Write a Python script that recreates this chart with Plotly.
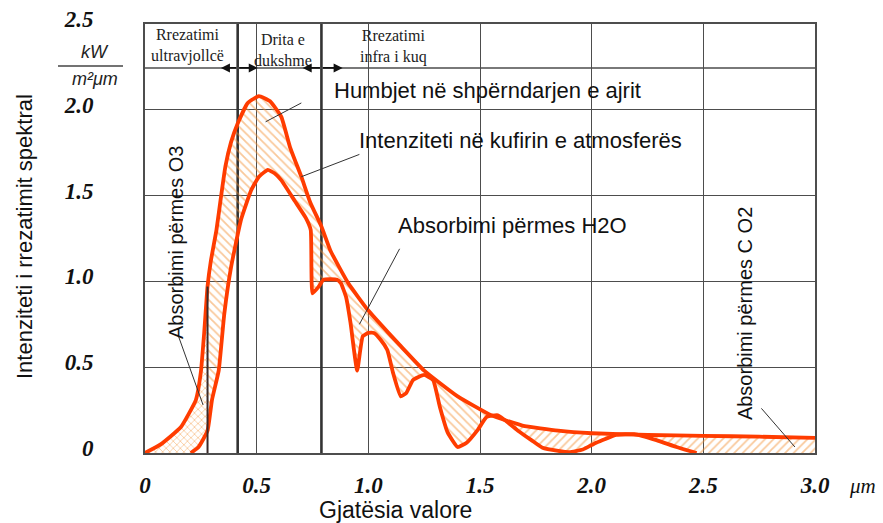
import numpy as np
import plotly.graph_objects as go

# ---------------- data ----------------
# Spectral irradiance at the top of the atmosphere (kW / m2 um)
wl_top = [0.0, 0.07, 0.16, 0.228, 0.25, 0.265, 0.28, 0.295, 0.32, 0.34, 0.36, 0.385,
          0.415, 0.46, 0.51, 0.56, 0.61, 0.65, 0.70, 0.74, 0.79, 0.83, 0.91, 1.00,
          1.09, 1.14, 1.25, 1.40, 1.55, 1.69, 1.85, 2.0, 2.25, 2.5, 2.75, 3.0]
irr_top = [0.0, 0.05, 0.15, 0.31, 0.47, 0.70, 0.97, 1.12, 1.30, 1.49, 1.67, 1.81,
           1.92, 2.04, 2.08, 2.05, 1.96, 1.78, 1.61, 1.46, 1.32, 1.18, 0.99, 0.83,
           0.70, 0.63, 0.48, 0.33, 0.22, 0.16, 0.13, 0.115, 0.105, 0.10, 0.095, 0.088]

# Spectral irradiance at the ground (after absorption)
wl_surf = [0.205, 0.24, 0.28, 0.30, 0.33, 0.355, 0.385, 0.43, 0.475, 0.51, 0.55, 0.58,
           0.61, 0.67, 0.72, 0.742, 0.75, 0.778, 0.80, 0.86, 0.877, 0.90, 0.92, 0.95,
           0.975, 1.0, 1.025, 1.055, 1.085, 1.11, 1.145, 1.17, 1.20, 1.25, 1.29, 1.32,
           1.355, 1.40, 1.44, 1.49, 1.53, 1.58, 1.67, 1.73, 1.78, 1.85, 1.90, 1.96,
           2.02, 2.11, 2.19, 2.29, 2.38, 2.47]
irr_surf = [0.0, 0.035, 0.13, 0.31, 0.48, 0.81, 1.08, 1.36, 1.53, 1.61, 1.65, 1.63,
            1.59, 1.47, 1.37, 1.30, 0.93, 0.97, 1.01, 1.01, 0.99, 0.91, 0.76, 0.48,
            0.68, 0.70, 0.70, 0.66, 0.60, 0.47, 0.33, 0.35, 0.425, 0.455, 0.425, 0.27,
            0.12, 0.035, 0.06, 0.135, 0.21, 0.22, 0.13, 0.075, 0.03, 0.012, 0.005, 0.02,
            0.06, 0.105, 0.11, 0.075, 0.035, 0.0]

x_ticks = [0, 0.5, 1.0, 1.5, 2.0, 2.5, 3.0]
x_ticktext = ["0", "0.5", "1.0", "1.5", "2.0", "2.5", "3.0"]
y_ticks = [0, 0.5, 1.0, 1.5, 2.0, 2.5]
y_ticktext = ["0", "0.5", "1.0", "1.5", "2.0", "2.5"]

band_edges = [0.415, 0.79]        # UV | visible | IR
o3_edge = 0.28                     # end of O3 absorption
h2o_split = 1.58
header_level = 2.244

band_labels = ["Rrezatimi<br>ultravjollcë", "Drita e<br>dukshme", "Rrezatimi<br>infra i kuq"]
callouts = ["Humbjet në shpërndarjen e ajrit", "Intenziteti në kufirin e atmosferës",
            "Absorbimi përmes H2O"]
vertical_labels = ["Absorbimi përmes O3", "Absorbimi përmes C O2"]

# ---------------- helpers ----------------
W, H = 883, 523
L, R, T, B = 145, 68, 24, 70
PW, PH = W - L - R, H - T - B

def paper(px, py):
    return (px - L) / PW, (H - B - py) / PH

wt, it = np.array(wl_top), np.array(irr_top)
ws, isf = np.array(wl_surf), np.array(irr_surf)

def region(a, b):
    m1 = (wt > a) & (wt < b)
    xt = np.concatenate([[a], wt[m1], [b]])
    yt = np.interp(xt, wt, it)
    m2 = (ws > a) & (ws < b)
    xb = np.concatenate([[a], ws[m2], [b]])
    yb = np.interp(xb, ws, isf, left=0.0, right=0.0)
    return np.concatenate([xt, xb[::-1]]), np.concatenate([yt, yb[::-1]])

RED = "#ff3c00"
HATCH = "#f39236"
GRID = "#4d4d4d"

fig = go.Figure()

for (a, b, shape, size) in [(0.0, o3_edge, "x", 5), (o3_edge, h2o_split, "\\", 6),
                            (h2o_split, 3.0, "/", 6)]:
    px_, py_ = region(a, b)
    fig.add_trace(go.Scatter(x=px_, y=py_, mode="lines", line=dict(width=0),
                             fill="toself", fillcolor="rgba(0,0,0,0)",
                             fillpattern=dict(shape=shape, fgcolor=HATCH, bgcolor="rgba(255,255,255,0)",
                                              size=size, solidity=0.3),
                             hoverinfo="skip", showlegend=False))

fig.add_trace(go.Scatter(x=wl_top, y=irr_top, mode="lines",
                         line=dict(color=RED, width=3.8, shape="spline", smoothing=0.4),
                         showlegend=False))
fig.add_trace(go.Scatter(x=wl_surf, y=irr_surf, mode="lines",
                         line=dict(color=RED, width=3.8, shape="spline", smoothing=0.4),
                         showlegend=False))

shapes = []
for e in band_edges:
    shapes.append(dict(type="line", xref="x", yref="y", x0=e, x1=e, y0=0, y1=2.5,
                       line=dict(color="#333333", width=2.6), layer="between"))
shapes.append(dict(type="line", xref="x", yref="y", x0=o3_edge, x1=o3_edge, y0=0,
                   y1=float(np.interp(o3_edge, wt, it)),
                   line=dict(color="#3a2a2a", width=2), layer="above"))
shapes.append(dict(type="line", xref="x", yref="y", x0=0, x1=3.0, y0=header_level, y1=header_level,
                   line=dict(color=GRID, width=1.5), layer="between"))
# leader lines of the callouts
leaders = [((0.70, 2.04), (0.54, 1.93)), ((0.96, 1.74), (0.70, 1.61)),
           ((1.14, 1.19), (0.96, 0.75)), ((0.15, 0.68), (0.26, 0.28)),
           ((2.76, 0.26), (2.91, 0.035))]
for (x0, y0), (x1, y1) in leaders:
    shapes.append(dict(type="line", xref="x", yref="y", x0=x0, y0=y0, x1=x1, y1=y1,
                       line=dict(color="#333333", width=1), layer="above"))
# fraction bar of the unit
fx0, fy = paper(58, 66)
fx1, _ = paper(123, 66)
shapes.append(dict(type="line", xref="paper", yref="paper", x0=fx0, x1=fx1, y0=fy, y1=fy,
                   line=dict(color="#444444", width=1.5)))

ann = []
sans = "Liberation Sans"
serif = "Liberation Serif"

def pann(px, py, text, font, angle=0):
    xp, yp = paper(px, py)
    ann.append(dict(x=xp, y=yp, xref="paper", yref="paper", text=text, showarrow=False,
                    xanchor="center", yanchor="middle", textangle=angle, font=font))

# callouts
for txt, (cx, cy) in zip(callouts, [(1.533, 2.115), (1.68, 1.824), (1.645, 1.323)]):
    ann.append(dict(x=cx, y=cy, xref="x", yref="y", text=txt, showarrow=False,
                    xanchor="center", yanchor="middle",
                    font=dict(family=sans, size=22, color="#111111")))
for txt, (cx, cy) in zip(vertical_labels, [(0.139, 1.224), (2.687, 0.81)]):
    ann.append(dict(x=cx, y=cy, xref="x", yref="y", text=txt, showarrow=False, textangle=-90,
                    xanchor="center", yanchor="middle",
                    font=dict(family=sans, size=20, color="#111111")))
# header band labels
for txt, (cxp, cyp) in zip(band_labels, [(187, 45), (283, 50), (393, 46)]):
    pann(cxp, cyp, txt, dict(family=serif, size=16, color="#222222"))
# header arrows
for head, tail in [(0.34, band_edges[0]), (0.505, band_edges[0]),
                   (0.706, band_edges[1]), (0.885, band_edges[1])]:
    ann.append(dict(x=head, y=header_level, ax=tail, ay=header_level, xref="x", yref="y",
                    axref="x", ayref="y", text="", showarrow=True, arrowhead=2,
                    arrowsize=1, arrowwidth=1.8, arrowcolor="#111111"))
# axis titles and unit
pann(395, 510, "Gjatësia valore", dict(family=sans, size=23, color="#111111"))
pann(25, 237, "Intenziteti i rrezatimit spektral", dict(family=sans, size=22, color="#111111"), -90)
pann(862, 486, "μm", dict(family=serif, size=21, style="italic", color="#111111"))
pann(95, 52, "kW", dict(family=sans, size=18, style="italic", color="#222222"))
pann(95, 79, "m²μm", dict(family=sans, size=18, style="italic", color="#222222"))

tickfont = dict(family=serif, size=23, weight="bold", style="italic", color="#111111")
fig.update_layout(
    width=W, height=H, margin=dict(l=L, r=R, t=T, b=B),
    paper_bgcolor="white", plot_bgcolor="white",
    shapes=shapes, annotations=ann,
    xaxis=dict(range=[0, 3.0], tickvals=x_ticks, ticktext=x_ticktext, tickfont=tickfont,
               showgrid=True, gridcolor=GRID, gridwidth=1.4, zeroline=False,
               showline=True, mirror=True, linecolor=GRID, linewidth=1.6,
               ticks="", ticklabelstandoff=11, automargin=False),
    yaxis=dict(range=[0, 2.5], tickvals=y_ticks, ticktext=y_ticktext, tickfont=tickfont,
               showgrid=True, gridcolor=GRID, gridwidth=1.4, zeroline=False,
               showline=True, mirror=True, linecolor=GRID, linewidth=1.6,
               ticks="", ticklabelstandoff=45, ticklabelshift=-5, automargin=False),
)

fig.write_html("out.html", config={"displayModeBar": False},
               post_script="document.body.style.margin='0px';")
